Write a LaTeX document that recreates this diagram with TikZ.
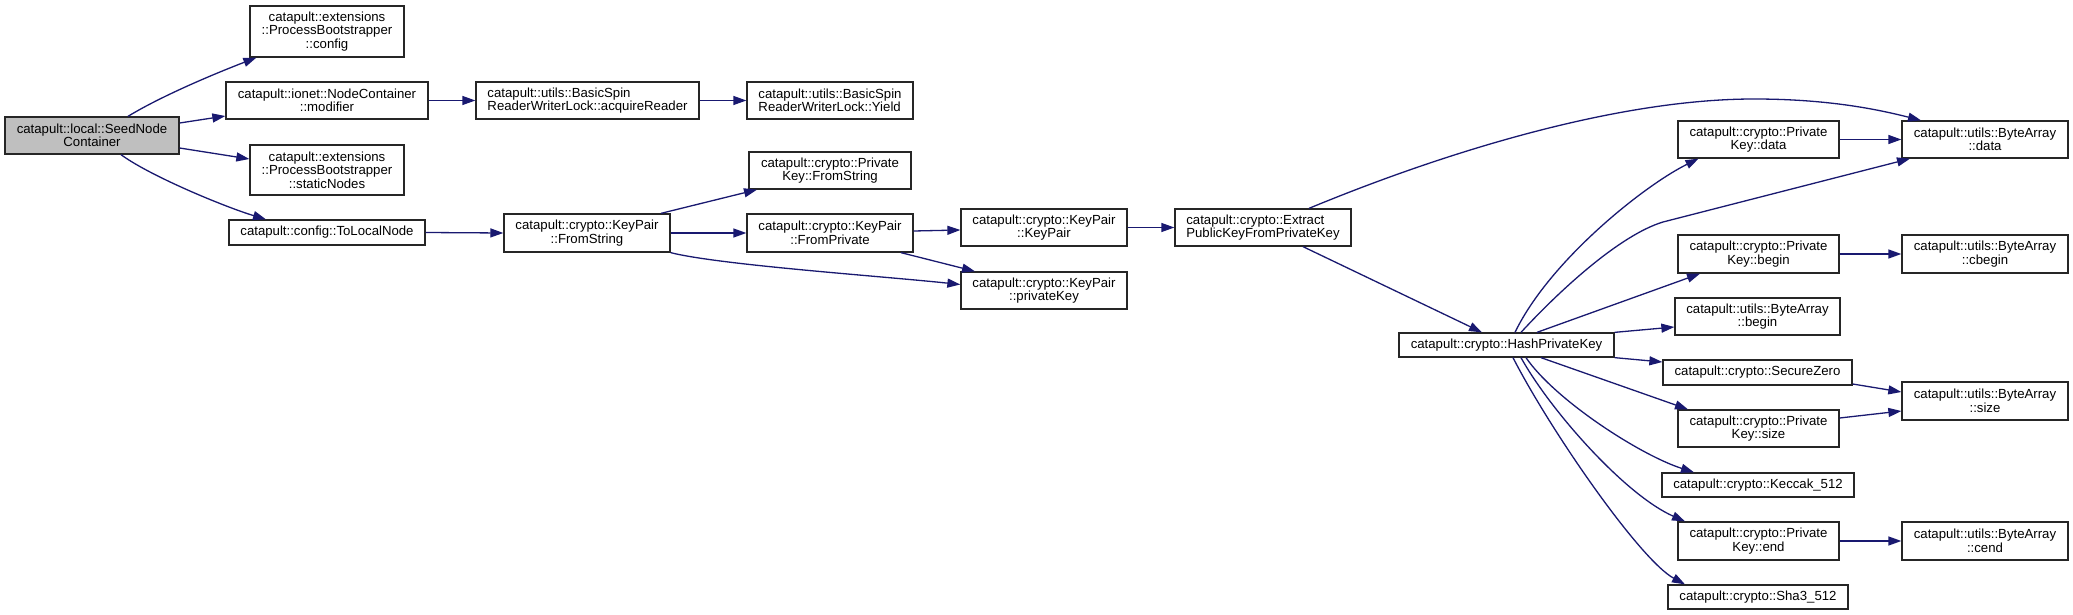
\documentclass[tikz,border=0pt]{standalone}
\usepackage{fontspec}
\setmainfont{Liberation Sans}
\usetikzlibrary{arrows.meta}
\definecolor{mblue}{HTML}{191970}
\definecolor{rootfill}{HTML}{BFBFBF}
\begin{document}
\begin{tikzpicture}[x=1pt,y=-1pt,
 nd/.style={draw=black!85, line width=1.3pt, fill=white, inner sep=0pt, align=center, font=\fontsize{13.2}{13.5}\selectfont},
 cg/.style={draw=mblue, line width=1.3pt, -{Triangle[length=13pt,width=9pt]}}]
\useasboundingbox[fill=white] (0,0) rectangle (2073,615);
% nodes
\node[nd, fill=rootfill, minimum width=174pt, minimum height=37pt] (seed) at (92,135.5) {catapult::local::SeedNode\\Container};
\node[nd, minimum width=154pt, minimum height=51pt] (config) at (327,31.5) {catapult::extensions\\::ProcessBootstrapper\\::config};
\node[nd, minimum width=202pt, minimum height=37pt] (modifier) at (327,100.5) {catapult::ionet::NodeContainer\\::modifier};
\node[nd, align=left, minimum width=223pt, minimum height=37pt] (acq) at (587.5,100.5) {catapult::utils::BasicSpin\\ReaderWriterLock::acquireReader};
\node[nd, align=left, minimum width=166pt, minimum height=37pt] (yield) at (830,100.5) {catapult::utils::BasicSpin\\ReaderWriterLock::Yield};
\node[nd, minimum width=154pt, minimum height=50pt] (static) at (327,170) {catapult::extensions\\::ProcessBootstrapper\\::staticNodes};
\node[nd, minimum width=196pt, minimum height=25pt] (tolocal) at (327,232.5) {catapult::config::ToLocalNode};
\node[nd, minimum width=166pt, minimum height=38pt] (kpfs) at (587,233) {catapult::crypto::KeyPair\\::FromString};
\node[nd, minimum width=162pt, minimum height=37pt] (pkfs) at (830,170.5) {catapult::crypto::Private\\Key::FromString};
\node[nd, minimum width=166pt, minimum height=38pt] (kpfp) at (830,233) {catapult::crypto::KeyPair\\::FromPrivate};
\node[nd, minimum width=166pt, minimum height=37pt] (kpkp) at (1044,227.5) {catapult::crypto::KeyPair\\::KeyPair};
\node[nd, minimum width=166pt, minimum height=37pt] (kppk) at (1044,290.5) {catapult::crypto::KeyPair\\::privateKey};
\node[nd, align=left, minimum width=176pt, minimum height=37pt] (extract) at (1263,227.5) {catapult::crypto::Extract\\PublicKeyFromPrivateKey};
\node[nd, minimum width=215pt, minimum height=24pt] (hash) at (1506.5,345) {catapult::crypto::HashPrivateKey};
\node[nd, minimum width=161pt, minimum height=37pt] (pkdata) at (1758.5,139.5) {catapult::crypto::Private\\Key::data};
\node[nd, minimum width=166pt, minimum height=37pt] (badata) at (1985,139.5) {catapult::utils::ByteArray\\::data};
\node[nd, minimum width=161pt, minimum height=38pt] (pkbegin) at (1758.5,254) {catapult::crypto::Private\\Key::begin};
\node[nd, minimum width=166pt, minimum height=38pt] (bacbegin) at (1985,254) {catapult::utils::ByteArray\\::cbegin};
\node[nd, minimum width=165pt, minimum height=37pt] (babegin) at (1757.5,316.5) {catapult::utils::ByteArray\\::begin};
\node[nd, minimum width=189pt, minimum height=25pt] (szero) at (1757.5,372.5) {catapult::crypto::SecureZero};
\node[nd, minimum width=166pt, minimum height=38pt] (basize) at (1985,401) {catapult::utils::ByteArray\\::size};
\node[nd, minimum width=161pt, minimum height=37pt] (pksize) at (1758.5,428.5) {catapult::crypto::Private\\Key::size};
\node[nd, minimum width=192pt, minimum height=24pt] (keccak) at (1758,485) {catapult::crypto::Keccak\_512};
\node[nd, minimum width=161pt, minimum height=38pt] (pkend) at (1758.5,541) {catapult::crypto::Private\\Key::end};
\node[nd, minimum width=166pt, minimum height=38pt] (bacend) at (1985,541) {catapult::utils::ByteArray\\::cend};
\node[nd, minimum width=180pt, minimum height=24pt] (sha3) at (1758,597) {catapult::crypto::Sha3\_512};
% edges
\draw[cg] ([xshift=36pt]seed.north) .. controls (163,95) and (219,72) .. ([xshift=7pt]config.south west);
\draw[cg] ([yshift=12.5pt]seed.east) -- ([yshift=-15.5pt]modifier.west);
\draw[cg] ([yshift=-12.5pt]seed.east) -- ([yshift=11pt]static.west);
\draw[cg] ([xshift=29pt]seed.south) .. controls (150,176) and (225,207) .. ([xshift=-61pt]tolocal.north);
\draw[cg] (modifier.east) -- (acq.west);
\draw[cg] (acq.east) -- (yield.west);
\draw[cg] (tolocal.east) -- (kpfs.west);
\draw[cg] ([xshift=74pt]kpfs.north) -- ([xshift=-73pt]pkfs.south);
\draw[cg] (kpfs.east) -- (kpfp.west);
\draw[cg] (kpfs.south east) .. controls (720,265) and (880,276) .. ([yshift=6pt]kppk.west);
\draw[cg] ([yshift=2pt]kpfp.east) -- ([yshift=-2.5pt]kpkp.west);
\draw[cg] ([xshift=71pt]kpfp.south) -- ([xshift=-69pt]kppk.north);
\draw[cg] (kpkp.east) -- (extract.west);
\draw[cg] ([xshift=46pt]extract.north) .. controls (1450,150) and (1620,99) .. (1754,99) .. controls (1830,99) and (1880,110) .. ([xshift=-64pt]badata.north);
\draw[cg] ([xshift=40pt]extract.south) -- ([xshift=-24.5pt]hash.north);
\draw[cg] ([xshift=8.5pt]hash.north) .. controls (1550,260) and (1645,185) .. ([xshift=-60pt]pkdata.south);
\draw[cg] ([xshift=14.5pt]hash.north) .. controls (1560,290) and (1620,235) .. (1663,222) -- ([xshift=-75pt]badata.south);
\draw[cg] ([xshift=30.5pt]hash.north) -- ([xshift=-58.5pt]pkbegin.south);
\draw[cg] (hash.north east) -- ([yshift=-10.5pt]babegin.west);
\draw[cg] (hash.south east) -- ([yshift=10.5pt]szero.west);
\draw[cg] ([xshift=34.5pt]hash.south) -- ([xshift=-70.5pt]pksize.north);
\draw[cg] ([xshift=19.5pt]hash.south) .. controls (1555,400) and (1640,455) .. ([xshift=-64pt]keccak.north);
\draw[cg] ([xshift=14.5pt]hash.south) .. controls (1550,410) and (1625,495) .. ([xshift=-73.5pt]pkend.north);
\draw[cg] ([xshift=6.5pt]hash.south) .. controls (1550,430) and (1640,560) .. ([xshift=-73pt]sha3.north);
\draw[cg] (pkdata.east) -- (badata.west);
\draw[cg] (pkbegin.east) -- (bacbegin.west);
\draw[cg] ([yshift=-11.5pt]szero.east) -- ([yshift=9pt]basize.west);
\draw[cg] ([yshift=10.5pt]pksize.east) -- ([yshift=-10pt]basize.west);
\draw[cg] (pkend.east) -- (bacend.west);
\end{tikzpicture}
\end{document}
